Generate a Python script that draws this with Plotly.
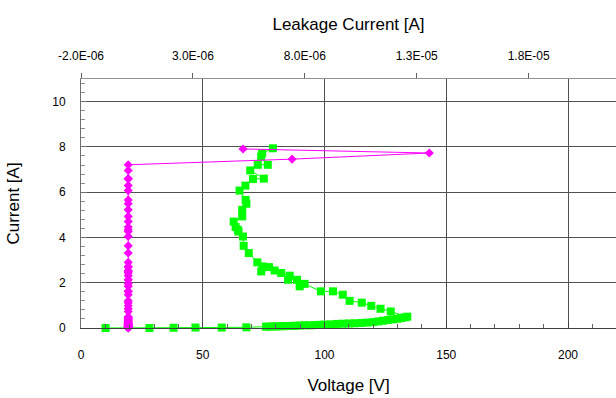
import plotly.graph_objects as go

# Green series: Voltage [V] vs Current [A]
voltage = [10.1, 28.1, 38.0, 47.0, 57.8, 67.9,
           76.0, 77.5, 79.0, 80.5, 82.0, 83.5, 85.0, 86.5, 88.0, 90.0, 92.0, 94.0, 96.0, 98.0,
           100.0, 102.5, 105.0, 107.5, 110.0, 112.5, 115.0, 117.5, 120.0, 122.0, 124.0, 126.0,
           128.0, 130.0, 131.5, 133.0, 134.0,
           127.2, 123.0, 119.2, 115.3, 110.3, 107.5, 103.5, 98.5, 91.8, 89.8, 88.7, 85.0, 85.7,
           82.2, 79.5, 77.2, 74.7, 74.0, 72.4, 68.9, 66.8, 66.5, 64.7, 64.4, 63.5, 62.7, 66.2,
           66.2, 67.9, 67.6, 65.1, 67.5, 70.6, 75.1, 69.5, 72.6, 76.7, 74.0, 74.4, 78.8]
current_v = [0.00, 0.00, 0.01, 0.02, 0.02, 0.03,
             0.06, 0.06, 0.07, 0.07, 0.08, 0.08, 0.09, 0.09, 0.10, 0.11, 0.12, 0.12, 0.13, 0.14,
             0.15, 0.16, 0.18, 0.19, 0.20, 0.21, 0.22, 0.24, 0.26, 0.29, 0.32, 0.35,
             0.38, 0.41, 0.44, 0.47, 0.50,
             0.73, 0.85, 0.98, 1.12, 1.20, 1.47, 1.62, 1.62, 1.95, 1.84, 2.13, 2.13, 2.31,
             2.43, 2.54, 2.69, 2.72, 2.50, 2.90, 3.31, 3.63, 4.04, 4.26, 4.34, 4.46, 4.70, 4.93,
             5.22, 5.49, 5.66, 6.07, 6.29, 6.58, 6.60, 6.96, 7.21, 7.21, 7.57, 7.72, 7.94]

# Magenta series: Leakage Current [A] vs Current [A]
current_l = [0.00, 0.00, 0.01, 0.02, 0.02, 0.03, 0.06, 0.06, 0.07, 0.07, 0.08, 0.08, 0.09,
             0.09, 0.10, 0.11, 0.12, 0.12, 0.13, 0.14, 0.15, 0.16, 0.18, 0.19, 0.20, 0.21,
             0.22, 0.24, 0.26, 0.29, 0.32, 0.35, 0.38, 0.41, 0.44, 0.47, 0.50,
             0.73, 0.85, 0.98, 1.12, 1.20, 1.47, 1.62, 1.62, 1.95, 1.84, 2.13, 2.13, 2.31,
             2.43, 2.54, 2.69, 2.72, 2.50, 2.90, 3.31, 3.63, 4.04, 4.26, 4.34, 4.46, 4.70,
             4.93, 5.22, 5.49, 5.66, 6.07, 6.29, 6.58, 6.60, 6.96, 7.21, 7.46, 7.73, 7.91]
leakage = [1.1e-7, 1.1e-7, 1.1e-7, 1.1e-7, 1.1e-7, 1.1e-7, 1.1e-7, 1.1e-7, 1.1e-7, 1.1e-7,
           1.1e-7, 1.1e-7, 1.1e-7, 1.1e-7, 1.1e-7, 1.1e-7, 1.1e-7, 1.1e-7, 1.1e-7, 1.1e-7,
           1.1e-7, 1.1e-7, 1.1e-7, 1.1e-7, 1.1e-7, 1.1e-7, 1.1e-7, 1.1e-7, 1.1e-7, 1.1e-7,
           1.1e-7, 1.1e-7, 1.1e-7, 1.1e-7, 1.1e-7, 1.1e-7, 1.1e-7,
           1.1e-7, 1.1e-7, 1.1e-7, 1.1e-7, 1.1e-7, 1.1e-7, 1.1e-7, 1.1e-7, 1.1e-7, 1.1e-7,
           1.1e-7, 1.1e-7, 1.1e-7, 1.1e-7, 1.1e-7, 1.1e-7, 1.1e-7, 1.1e-7, 1.1e-7, 1.1e-7,
           1.1e-7, 1.1e-7, 1.1e-7, 1.1e-7, 1.1e-7, 1.1e-7, 1.1e-7, 1.1e-7, 1.1e-7, 1.1e-7,
           1.1e-7, 1.1e-7, 1.1e-7, 1.1e-7, 1.1e-7, 1.1e-7, 7.43e-6, 1.356e-5, 5.24e-6]

top_tickvals = [-2.0e-6, 3.0e-6, 8.0e-6, 1.3e-5, 1.8e-5]
top_ticktext = ["-2.0E-06", "3.0E-06", "8.0E-06", "1.3E-05", "1.8E-05"]

FONT = "Liberation Sans, Arial, sans-serif"

fig = go.Figure()
fig.add_trace(go.Scatter(
    x=voltage, y=current_v, mode="lines+markers", xaxis="x", yaxis="y",
    line=dict(color="#00FF00", width=1),
    marker=dict(symbol="square", size=8, color="#00FF00"),
    showlegend=False, cliponaxis=False))
fig.add_trace(go.Scatter(
    x=leakage, y=current_l, mode="lines+markers", xaxis="x2", yaxis="y",
    line=dict(color="#FF00FF", width=1),
    marker=dict(symbol="diamond", size=7, color="#FF00FF"),
    showlegend=False, cliponaxis=False))

fig.update_layout(
    width=616, height=398,
    margin=dict(l=81, r=0, t=79, b=70),
    paper_bgcolor="white", plot_bgcolor="white",
    font=dict(family=FONT, color="black"),
    xaxis=dict(
        range=[0, 219.7], dtick=50, tick0=0,
        showgrid=True, gridcolor="#505050", gridwidth=1,
        zeroline=False, showline=True, linecolor="#404040", linewidth=1,
        ticks="inside", ticklen=6, tickcolor="#404040",
        minor=dict(dtick=10, ticks="inside", ticklen=4, tickcolor="#606060"),
        ticklabelstandoff=16,
        tickfont=dict(size=12),
        title=dict(text="Voltage [V]", font=dict(size=17), standoff=17),
    ),
    xaxis2=dict(
        range=[-2.0e-6, 2.19e-5], overlaying="x", side="top", anchor="y",
        tickmode="array", tickvals=top_tickvals, ticktext=top_ticktext,
        showgrid=False, zeroline=False, showline=True, linecolor="#909090", linewidth=1,
        ticks="outside", ticklen=5, tickcolor="#606060",
        ticklabelstandoff=8,
        tickfont=dict(size=12),
        title=dict(text="Leakage Current [A]", font=dict(size=17), standoff=14),
    ),
    yaxis=dict(
        range=[0, 11], dtick=2, tick0=0,
        showgrid=True, gridcolor="#505050", gridwidth=1,
        zeroline=False, showline=True, linecolor="#707070", linewidth=1,
        ticks="inside", ticklen=6, tickcolor="#707070",
        minor=dict(dtick=0.4, ticks="inside", ticklen=4, tickcolor="#909090"),
        ticklabelstandoff=12,
        tickfont=dict(size=12),
        title=dict(text="Current [A]", font=dict(size=17), standoff=28),
    ),
)

fig.write_html("out.html")
